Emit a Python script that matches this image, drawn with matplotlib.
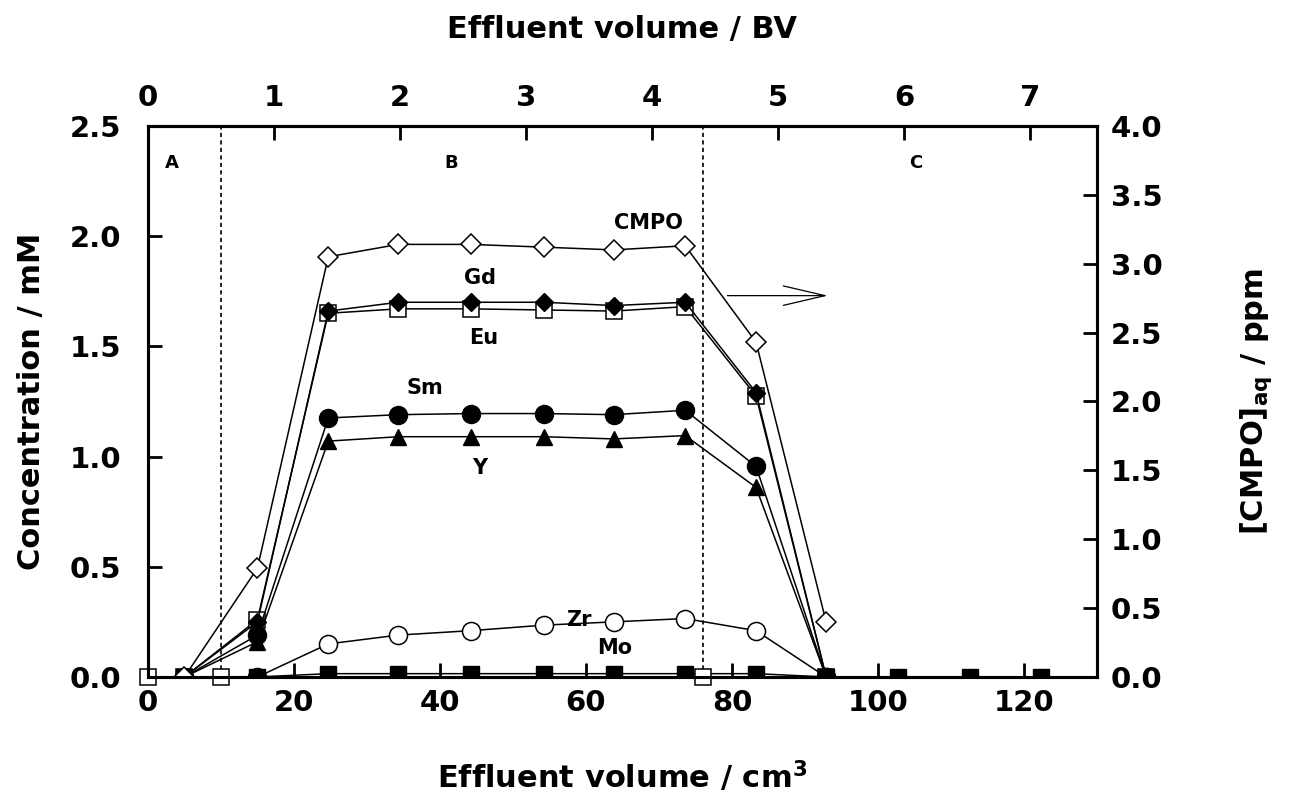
import matplotlib
matplotlib.use("Agg")
import matplotlib.pyplot as plt
import numpy as np

# effluent volume of each fraction (cm3)
vol = [5, 15, 24.7, 34.3, 44.2, 54.2, 63.8, 73.6, 83.3, 92.9]
vol_tail = [102.7, 112.6, 122.3]

# metal concentrations (mM)
gd = [0, 0.25, 1.66, 1.70, 1.70, 1.70, 1.685, 1.70, 1.29, 0]
eu = [0, 0.26, 1.65, 1.67, 1.67, 1.665, 1.66, 1.68, 1.275, 0]
sm = [0, 0.19, 1.175, 1.19, 1.195, 1.195, 1.19, 1.21, 0.955, 0]
y_ = [0, 0.16, 1.07, 1.09, 1.09, 1.09, 1.08, 1.095, 0.86, 0]
zr = [0, 0, 0.15, 0.19, 0.21, 0.235, 0.25, 0.265, 0.21, 0]
mo = [0, 0, 0.015, 0.015, 0.015, 0.015, 0.015, 0.015, 0.015, 0, 0, 0, 0]

# CMPO in the aqueous phase (ppm)
cmpo = [0, 0.79, 3.05, 3.14, 3.14, 3.12, 3.10, 3.13, 2.43, 0.40]

# blank fractions
blank_x = [0, 10, 76]
blank_y = [0, 0, 0]

bed_volume = 17.27  # cm3 per BV
zone_edges = [10, 76]

plt.rcParams['font.family'] = 'DejaVu Sans'
plt.rcParams['font.weight'] = 'bold'

fig = plt.figure(figsize=(12.91, 8.02), dpi=100)
ax = fig.add_axes([0.1146, 0.1559, 0.7351, 0.6871])
ax2 = ax.twinx()

lw = 1.1
ax.plot(vol, gd, '-', color='black', lw=lw, marker='D', ms=9, mfc='black', zorder=4)
ax.plot(vol, eu, '-', color='black', lw=lw, marker='s', ms=11, mfc='white', mew=1.1, zorder=3)
ax.plot(vol, sm, '-', color='black', lw=lw, marker='o', ms=13, mfc='black', zorder=3)
ax.plot(vol, y_, '-', color='black', lw=lw, marker='^', ms=12, mfc='black', zorder=3)
ax.plot(vol, zr, '-', color='black', lw=lw, marker='o', ms=13, mfc='white', mew=1.1, zorder=3)
ax.plot(vol + vol_tail, mo, '-', color='black', lw=lw, marker='s', ms=11, mfc='black', zorder=5)
ax.plot(blank_x, blank_y, ls='none', marker='s', ms=11, mfc='white', mec='black', mew=1.1,
        zorder=6, clip_on=False)

ax2.plot(vol, cmpo, '-', color='black', lw=lw, marker='D', ms=10, mfc='white', mew=1.1)

for xe in zone_edges:
    ax.axvline(xe, color='black', ls=(0, (2.5, 2)), lw=1.2, zorder=1)

ax.set_xlim(0, 130)
ax.set_ylim(0, 2.5)
ax2.set_ylim(0, 4.0)
ax.set_xticks(np.arange(0, 121, 20))
ax.set_yticks(np.arange(0, 2.51, 0.5))
ax2.set_yticks(np.arange(0, 4.01, 0.5))
ax.yaxis.set_major_formatter(matplotlib.ticker.FormatStrFormatter('%.1f'))
ax2.yaxis.set_major_formatter(matplotlib.ticker.FormatStrFormatter('%.1f'))

top = ax.secondary_xaxis('top', functions=(lambda v: v / bed_volume, lambda v: v * bed_volume))
top.set_xticks(range(0, 8))

for a in (ax, ax2):
    for s in a.spines.values():
        s.set_linewidth(2.2)
ax.tick_params(axis='both', direction='in', length=10, width=2, labelsize=21)
ax.tick_params(axis='y', pad=19)
ax.tick_params(axis='x', pad=9)
ax2.tick_params(axis='y', direction='in', length=10, width=2, labelsize=21, pad=10)
top.tick_params(axis='x', direction='in', length=10, width=2, labelsize=21, pad=10)
top.spines['top'].set_linewidth(2.2)

ax.set_xlabel('Effluent volume / cm$^\\mathbf{3}$', fontsize=22, fontweight='bold', labelpad=30)
top.set_xlabel('Effluent volume / BV', fontsize=22, fontweight='bold', labelpad=33)
ax.set_ylabel('Concentration / mM', fontsize=22, fontweight='bold', labelpad=17)
ax2.set_ylabel('[CMPO]$_{\\mathbf{aq}}$ / ppm', fontsize=22, fontweight='bold', labelpad=54)

# zones
for txt, xz in (('A', 3.3, ), ('B', 41.6), ('C', 105.2)):
    ax.text(xz, 2.33, txt, fontsize=13, fontweight='bold', ha='center', va='center')

# series names
labels = [('CMPO', 68.5, 2.06), ('Gd', 45.5, 1.81), ('Eu', 46, 1.54),
          ('Sm', 38, 1.31), ('Y', 45.5, 0.95), ('Zr', 59, 0.26), ('Mo', 64, 0.13)]
for txt, xl, yl in labels:
    ax.text(xl, yl, txt, fontsize=15, fontweight='bold', ha='center', va='center')

ax.annotate('', xy=(93.5, 1.73), xytext=(79, 1.73),
            arrowprops=dict(arrowstyle='->,head_length=1.5,head_width=0.35',
                            lw=0.9, color='black', mutation_scale=20))

fig.savefig('out.png', dpi=100)
